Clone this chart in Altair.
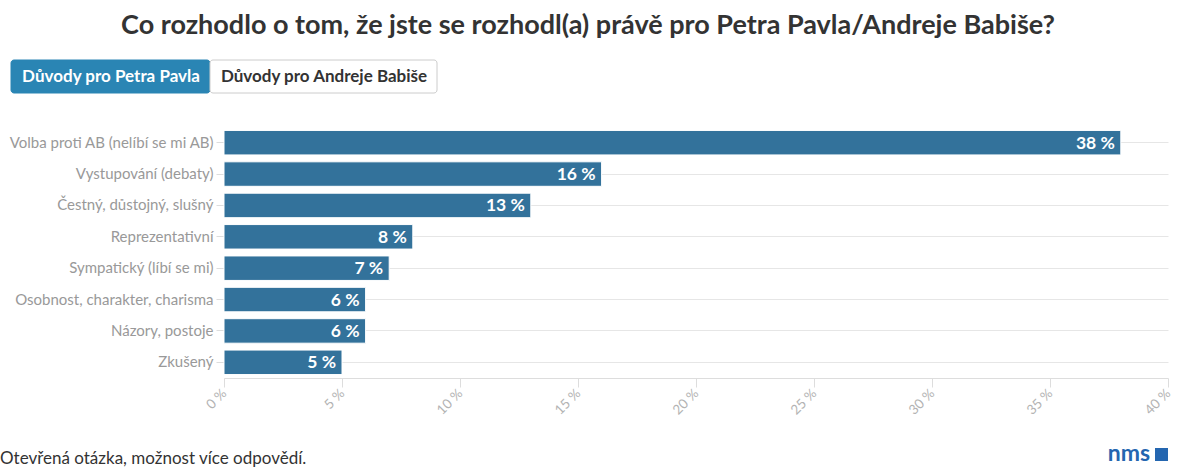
import altair as alt
import pandas as pd

categories = [
    "Volba proti AB (nelíbí se mi AB)",
    "Vystupování (debaty)",
    "Čestný, důstojný, slušný",
    "Reprezentativní",
    "Sympatický (líbí se mi)",
    "Osobnost, charakter, charisma",
    "Názory, postoje",
    "Zkušený",
]
values = [38, 16, 13, 8, 7, 6, 6, 5]
x_ticks = [0, 5, 10, 15, 20, 25, 30, 35, 40]

title_text = "Co rozhodlo o tom, že jste se rozhodl(a) právě pro Petra Pavla/Andreje Babiše?"
tab_active = "Důvody pro Petra Pavla"
tab_inactive = "Důvody pro Andreje Babiše"
footer_text = "Otevřená otázka, možnost více odpovědí."
logo_text = "nms"

FONT = "Lato"
BAR = "#33729b"
TAB = "#2a85b4"

df = pd.DataFrame({"cat": categories, "val": values})
df["label"] = df["val"].astype(str) + " %"
one = pd.DataFrame({"a": [0]})

y_enc = alt.Y(
    "cat:N", sort=categories, title=None,
    scale=alt.Scale(paddingInner=0.22, paddingOuter=0.11),
    axis=alt.Axis(labelColor="#999999", labelFontSize=15, labelFont=FONT,
                  tickColor="#dddddd", tickSize=8, domain=False, grid=True,
                  gridColor="#e6e6e6", labelPadding=3, labelLimit=300),
)
x_enc = alt.X(
    "val:Q", title=None,
    scale=alt.Scale(domain=[0, 40], nice=False),
    axis=alt.Axis(values=x_ticks, labelExpr="datum.value + ' %'", labelAngle=-45,
                  labelColor="#b3b3b3", labelFontSize=13.5, labelFont=FONT,
                  grid=False, domainColor="#dddddd", tickColor="#dddddd",
                  tickSize=9, labelAlign="right", labelBaseline="middle",
                  labelPadding=4),
)

bars = alt.Chart(df).mark_bar(color=BAR, stroke="white", strokeWidth=1).encode(x=x_enc, y=y_enc)
labels = alt.Chart(df).mark_text(
    align="right", dx=-6, dy=1, color="white", fontWeight="bold", fontSize=17.5, font=FONT,
).encode(x="val:Q", y=alt.Y("cat:N", sort=categories), text="label:N")

title = alt.Chart(one).mark_text(
    text=title_text, fontSize=27, fontWeight="bold", font=FONT, color="#333333",
    align="center", baseline="alphabetic",
).encode(x=alt.value(364), y=alt.value(-93))

tab1 = alt.Chart(one).mark_rect(fill=TAB, stroke=TAB, cornerRadius=3).encode(
    x=alt.value(-213), x2=alt.value(-14), y=alt.value(-67), y2=alt.value(-34))
tab2 = alt.Chart(one).mark_rect(fill="white", stroke="#cccccc", cornerRadius=3).encode(
    x=alt.value(-14), x2=alt.value(213), y=alt.value(-67), y2=alt.value(-34))
tab1t = alt.Chart(one).mark_text(
    text=tab_active, fontSize=17, fontWeight="bold", font=FONT, color="white",
    align="center", baseline="middle").encode(x=alt.value(-113), y=alt.value(-50))
tab2t = alt.Chart(one).mark_text(
    text=tab_inactive, fontSize=17, fontWeight="bold", font=FONT, color="#333333",
    align="center", baseline="middle").encode(x=alt.value(100), y=alt.value(-50))

footer = alt.Chart(one).mark_text(
    text=footer_text, fontSize=17, font=FONT, color="#333333",
    align="left", baseline="alphabetic").encode(x=alt.value(-224), y=alt.value(337))
logo = alt.Chart(one).mark_text(
    text=logo_text, fontSize=23, fontWeight="bold", font=FONT, color="#2466b0",
    align="right", baseline="alphabetic").encode(x=alt.value(926), y=alt.value(334))
logo_sq = alt.Chart(one).mark_rect(fill="#2466b0").encode(
    x=alt.value(931), x2=alt.value(944), y=alt.value(321), y2=alt.value(334))

chart = alt.layer(
    bars, labels, title, tab1, tab2, tab1t, tab2t, footer, logo, logo_sq
).properties(
    width=944, height=251,
    autosize=alt.AutoSizeParams(type="none"),
    padding={"left": 224, "top": 127, "right": 10, "bottom": 90},
    background="white",
).configure_view(stroke=None)

chart.save("out.html", embed_options={"renderer": "svg", "actions": False})
